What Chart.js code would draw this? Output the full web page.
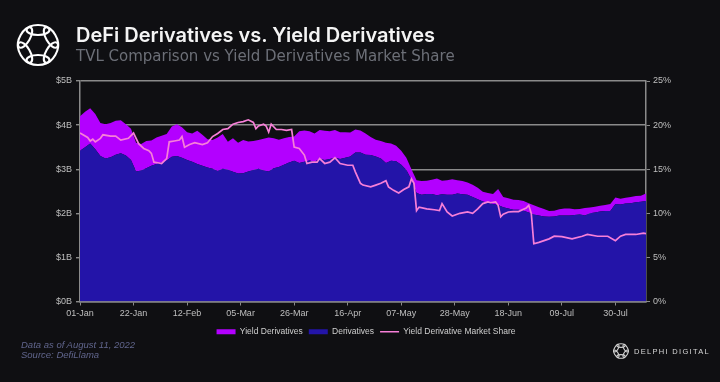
<!DOCTYPE html>
<html>
<head>
<meta charset="utf-8">
<script src="https://cdn.jsdelivr.net/npm/chart.js@4.4.0/dist/chart.umd.min.js"></script>
<style>
html,body{margin:0;padding:0;background:#0f0f12;}
#wrap{position:relative;width:720px;height:382px;overflow:hidden;background:#0f0f12;}
#chart{position:absolute;left:0;top:0;}
#title{position:absolute;left:76px;top:23px;font-family:Inter,sans-serif;font-weight:600;font-size:20px;color:#f4f4f4;white-space:nowrap;}
#subtitle{position:absolute;left:76px;top:47px;font-family:"DejaVu Sans",sans-serif;font-size:15px;color:#6c6f77;white-space:nowrap;}
#logo{position:absolute;left:13px;top:20px;}
#foot{position:absolute;left:21px;top:340px;font-family:"Liberation Sans",Arial,sans-serif;font-style:italic;font-size:9.5px;line-height:10px;color:#60658c;}
#slogo{position:absolute;left:612px;top:342px;}
#brand{position:absolute;left:634px;top:347px;font-family:"Liberation Sans",Arial,sans-serif;font-size:7.5px;letter-spacing:1.3px;color:#d6d6d6;white-space:nowrap;}
</style>
</head>
<body>
<div id="wrap">
<canvas id="chart" width="720" height="382"></canvas>
<svg id="logo" width="50" height="50" viewBox="-25 -25 50 50">
 <g fill="none" stroke="#ffffff" stroke-width="2.1">
  <ellipse cx="0" cy="-15" rx="11.5" ry="5" transform="rotate(0)"/>
  <ellipse cx="0" cy="-15" rx="11.5" ry="5" transform="rotate(60)"/>
  <ellipse cx="0" cy="-15" rx="11.5" ry="5" transform="rotate(120)"/>
  <ellipse cx="0" cy="-15" rx="11.5" ry="5" transform="rotate(180)"/>
  <ellipse cx="0" cy="-15" rx="11.5" ry="5" transform="rotate(240)"/>
  <ellipse cx="0" cy="-15" rx="11.5" ry="5" transform="rotate(300)"/>
 </g>
</svg>
<div id="title">DeFi Derivatives vs. Yield Derivatives</div>
<div id="subtitle">TVL Comparison vs Yield Derivatives Market Share</div>
<div id="foot">Data as of August 11, 2022<br>Source: DefiLlama</div>
<svg id="slogo" width="18" height="18" viewBox="-25 -25 50 50">
 <g fill="none" stroke="#d6d6d6" stroke-width="3">
  <ellipse cx="0" cy="-15" rx="11.5" ry="5" transform="rotate(0)"/>
  <ellipse cx="0" cy="-15" rx="11.5" ry="5" transform="rotate(60)"/>
  <ellipse cx="0" cy="-15" rx="11.5" ry="5" transform="rotate(120)"/>
  <ellipse cx="0" cy="-15" rx="11.5" ry="5" transform="rotate(180)"/>
  <ellipse cx="0" cy="-15" rx="11.5" ry="5" transform="rotate(240)"/>
  <ellipse cx="0" cy="-15" rx="11.5" ry="5" transform="rotate(300)"/>
 </g>
</svg>
<div id="brand">DELPHI DIGITAL</div>
</div>
<script>
// x tick labels (every 21 days starting 01-Jan-2022)
const tickLabels = ['01-Jan','22-Jan','12-Feb','05-Mar','26-Mar','16-Apr','07-May','28-May','18-Jun','09-Jul','30-Jul'];

// sample days (days since 01-Jan) for the TVL areas
const days = [0,2,4,6,8,10,12,14,16,18,20,22,24,26,28,30,32,34,36,38,40,42,44,46,48,50,52,54,56,58,
60,62,64,66,68,70,72,74,76,78,80,82,84,86,88,90,92,94,96,98,100,102,104,106,108,110,112,114,116,118,
120,122,124,126,128,130,132,134,136,138,140,142,144,146,148,150,152,154,156,158,160,162,164,166,168,170,172,174,176,178,
180,182,184,186,188,190,192,194,196,198,200,202,204,206,208,210,212,214,216,218,220,222];

// Derivatives TVL ($B)
const derivativesTVL = [3.42,3.50,3.58,3.45,3.30,3.24,3.27,3.33,3.36,3.31,
3.21,2.95,2.97,3.02,3.08,3.12,3.15,3.20,3.28,3.30,
3.26,3.21,3.17,3.12,3.08,3.04,3.01,2.96,3.01,2.99,
2.94,2.90,2.91,2.95,2.98,3.01,2.97,2.95,3.02,3.05,
3.10,3.15,3.19,3.14,3.17,3.20,3.17,3.23,3.21,3.23,
3.26,3.23,3.26,3.29,3.38,3.38,3.33,3.32,3.29,3.24,
3.14,3.19,3.18,3.10,2.98,2.76,2.46,2.42,2.44,2.44,
2.41,2.43,2.42,2.42,2.45,2.43,2.42,2.37,2.32,2.27,
2.24,2.21,2.19,2.14,2.11,2.08,2.08,2.06,2.02,1.97,
1.95,1.93,1.92,1.93,1.95,1.95,1.95,1.96,1.98,1.95,
2.00,2.02,2.04,2.05,2.05,2.21,2.20,2.22,2.23,2.25,
2.26,2.28];

// Yield Derivatives TVL ($B), stacked on top of Derivatives
const yieldTVL = [0.78,0.80,0.80,0.80,0.75,0.78,0.78,0.77,0.75,0.71,
0.71,0.65,0.60,0.62,0.57,0.60,0.61,0.60,0.69,0.72,
0.69,0.63,0.64,0.75,0.70,0.64,0.65,0.76,0.79,0.63,
0.76,0.70,0.75,0.68,0.66,0.65,0.72,0.77,0.68,0.62,
0.60,0.58,0.55,0.72,0.71,0.66,0.64,0.66,0.66,0.63,
0.63,0.61,0.58,0.54,0.52,0.50,0.48,0.41,0.38,0.40,
0.46,0.39,0.35,0.32,0.28,0.24,0.29,0.31,0.30,0.32,
0.38,0.31,0.33,0.35,0.30,0.30,0.28,0.28,0.26,0.22,
0.22,0.23,0.36,0.23,0.23,0.23,0.22,0.22,0.21,0.21,
0.19,0.17,0.13,0.13,0.14,0.16,0.16,0.13,0.12,0.17,
0.13,0.13,0.13,0.14,0.16,0.15,0.13,0.13,0.14,0.14,
0.14,0.17];

// Yield Derivative Market Share (%)
const shareDays = [0,3,4,5,6,8,9,12,14,16,19,21,23,25,27,28,29,31,32,34,35,37,39,40,41,43,45,48,50,52,
54,56,58,60,62,64,66,68,69,70,72,73,74,75,77,79,81,83,84,86,88,89,91,93,94,96,98,100,102,105,
107,108,110,111,114,116,118,120,121,123,125,127,129,130,131,132,133,136,139,141,142,144,146,149,152,154,156,158,160,161,
163,164,165,166,168,170,172,175,176,177,178,180,184,186,189,193,197,199,203,207,210,212,214,218,221,222];
const shareValues = [19.1,18.6,18.2,18.4,18.1,18.5,18.9,18.75,18.75,18.3,18.5,19.1,17.9,17.35,17.1,16.8,15.8,15.7,15.65,16.2,
18.1,18.2,18.3,18.7,17.5,17.8,18.0,17.8,18.0,18.7,19.05,19.5,19.6,20.1,20.3,20.4,20.6,20.3,19.6,19.9,
20.1,19.9,19.2,20.1,19.5,19.5,19.4,19.5,17.5,17.35,16.6,15.65,15.8,15.8,16.2,15.65,15.8,16.3,15.65,15.45,
15.45,14.7,13.4,13.2,13.0,13.2,13.4,13.7,13.0,12.6,12.3,12.7,13.0,13.9,13.4,10.3,10.7,10.5,10.4,10.3,
11.1,10.15,9.7,10.0,10.15,10.0,10.5,11.1,11.3,11.2,11.3,10.9,9.6,9.9,10.15,10.2,10.2,10.6,10.9,10.0,
6.55,6.7,7.1,7.4,7.35,7.1,7.4,7.6,7.4,7.4,6.9,7.4,7.6,7.6,7.75,7.7];

const seriesNames = ['Derivatives','Yield Derivatives','Yield Derivative Market Share'];
const legendOrder = [1,0,2];

const gridColor = '#8a8a8a';
const tickColor = '#bfbfbf';
Chart.defaults.font.family = '"Liberation Sans", Arial, sans-serif';

const toXY = (xs, ys) => ys.map((v, i) => ({x: xs[i], y: v}));

new Chart(document.getElementById('chart'), {
  type: 'line',
  data: {
    datasets: [
      {
        label: seriesNames[0],
        data: toXY(days, derivativesTVL),
        yAxisID: 'y',
        stack: 'tvl',
        fill: 'origin',
        backgroundColor: '#2314a8',
        borderColor: '#2314a8',
        borderWidth: 0,
        pointRadius: 0,
        pointStyle: 'rect',
        tension: 0
      },
      {
        label: seriesNames[1],
        data: toXY(days, yieldTVL),
        yAxisID: 'y',
        stack: 'tvl',
        fill: '-1',
        backgroundColor: '#b300ff',
        borderColor: '#b300ff',
        borderWidth: 0,
        pointRadius: 0,
        pointStyle: 'rect',
        tension: 0
      },
      {
        label: seriesNames[2],
        data: toXY(shareDays, shareValues),
        yAxisID: 'y1',
        fill: false,
        borderColor: '#f77fd8',
        backgroundColor: '#f77fd8',
        borderWidth: 1.7,
        pointRadius: 0,
        pointStyle: 'line',
        tension: 0,
        order: -1
      }
    ]
  },
  options: {
    responsive: false,
    animation: false,
    events: [],
    layout: {padding: {left: 56, right: 44, top: 81, bottom: 36}},
    plugins: {
      legend: {
        position: 'bottom',
        labels: {
          usePointStyle: true,
          pointStyleWidth: 19,
          boxHeight: 5,
          padding: 6,
          color: '#cfcfcf',
          font: {size: 8.5},
          sort: (a, b) => legendOrder.indexOf(a.datasetIndex) - legendOrder.indexOf(b.datasetIndex)
        }
      },
      tooltip: {enabled: false}
    },
    scales: {
      x: {
        type: 'linear',
        min: 0,
        max: 222,
        afterFit: (s) => { s.height = 20; },
        ticks: {
          stepSize: 21,
          autoSkip: false,
          maxRotation: 0,
          color: tickColor,
          font: {size: 9},
          padding: 3,
          callback: (v) => (v % 21 === 0 ? tickLabels[v / 21] : null)
        },
        grid: {drawOnChartArea: false, drawTicks: true, tickLength: 4, color: gridColor},
        border: {display: true, color: gridColor, width: 1.5}
      },
      y: {
        stacked: true,
        min: 0,
        max: 5,
        afterFit: (s) => { s.width = 24; },
        ticks: {
          stepSize: 1,
          color: tickColor,
          font: {size: 9},
          padding: 4,
          callback: (v) => '$' + v + 'B'
        },
        grid: {color: gridColor, lineWidth: 1.4, tickLength: 4},
        border: {display: true, color: gridColor, width: 1.5}
      },
      y1: {
        position: 'right',
        min: 0,
        max: 25,
        afterFit: (s) => { s.width = 30; },
        ticks: {
          stepSize: 5,
          color: tickColor,
          font: {size: 9},
          padding: 3,
          callback: (v) => v + '%'
        },
        grid: {drawOnChartArea: false, tickLength: 4, color: gridColor},
        border: {display: true, color: gridColor, width: 1.5}
      }
    }
  }
});
</script>
</body>
</html>
